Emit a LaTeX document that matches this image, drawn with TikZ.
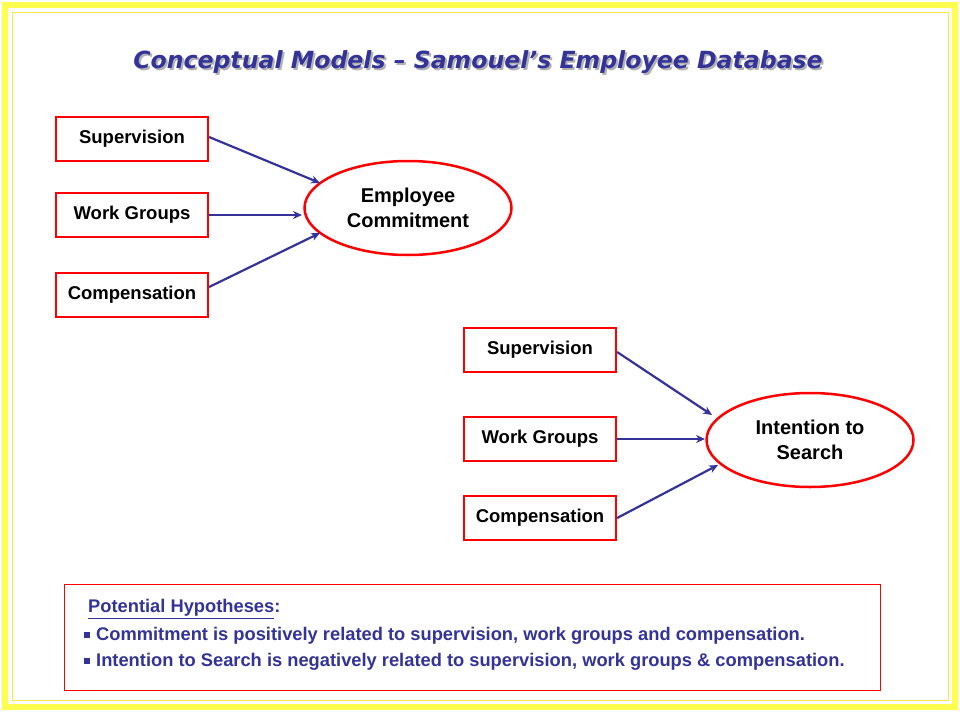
\documentclass[tikz,border=0pt]{standalone}
\usepackage{fontspec}
\setmainfont{Liberation Sans}
\newfontfamily\titlefont{DejaVu Sans}
\usetikzlibrary{shapes.geometric,arrows.meta}
\definecolor{navy}{RGB}{51,51,153}
\definecolor{ybord}{RGB}{255,255,80}
\newcommand{\bsq}{\raisebox{0.3ex}{\rule{6pt}{6pt}}\hspace{6pt}}
\tikzset{
 x=1pt,y=-1pt,
 varbox/.style={draw=red,line width=2.2pt,minimum width=152pt,minimum height=44pt,font=\bfseries\fontsize{18.5}{21}\selectfont,inner sep=0pt},
 outc/.style={ellipse,draw=red,line width=2.5pt,minimum width=207pt,minimum height=94pt,align=center,font=\bfseries\fontsize{20}{25}\selectfont,inner sep=0pt},
 link/.style={draw=navy,line width=2.2pt,-{Stealth[length=9pt,width=8pt]}},
 hyp/.style={anchor=west,text=navy,font=\bfseries\fontsize{18.3}{21}\selectfont,inner sep=0pt}
}
\begin{document}
\begin{tikzpicture}
\useasboundingbox (0,0) rectangle (960,720);
\fill[white] (0,0) rectangle (960,720);
\draw[ybord,line width=6pt] (5,5) rectangle (955,707);
\draw[ybord!80!orange,line width=0.8pt] (12,12) rectangle (948,700);
\node[text=black!30,font=\titlefont\bfseries\itshape\fontsize{23.6}{26}\selectfont] at (480,64) {Conceptual Models – Samouel’s Employee Database};
\node[text=navy,font=\titlefont\bfseries\itshape\fontsize{23.6}{26}\selectfont] (title) at (478,62) {Conceptual Models – Samouel’s Employee Database};
% left model
\node[varbox] (s1) at (132,139) {Supervision};
\node[varbox] (w1) at (132,215) {Work Groups};
\node[varbox] (c1) at (132,295) {Compensation};
\node[outc] (e1) at (408,208) {Employee\\Commitment};
\coordinate (e1a) at (320,183);
\coordinate (e1b) at (302,215);
\coordinate (e1c) at (320,233);
\draw[link] (s1.east) ++(0,-2) -- (e1a);
\draw[link] (w1.east) -- (e1b);
\draw[link] (c1.east) ++(0,-8) -- (e1c);
% right model
\node[varbox] (s2) at (540,350) {Supervision};
\node[varbox] (w2) at (540,439) {Work Groups};
\node[varbox] (c2) at (540,518) {Compensation};
\node[outc] (e2) at (810,440) {Intention to\\Search};
\coordinate (e2a) at (712,415);
\coordinate (e2b) at (705,439);
\coordinate (e2c) at (718,465);
\draw[link] (s2.east) ++(0,2) -- (e2a);
\draw[link] (w2.east) -- (e2b);
\draw[link] (c2.east) -- (e2c);
% hypotheses
\draw[red,line width=0.8pt] (64,584) rectangle (880,690);
\node[hyp] (h0) at (88,609) {\underline{Potential Hypotheses}:};
\node[hyp] (h1) at (84,636) {\bsq Commitment is positively related to supervision, work groups and compensation.};
\node[hyp] (h2) at (84,662) {\bsq Intention to Search is negatively related to supervision, work groups \& compensation.};
\end{tikzpicture}
\end{document}
